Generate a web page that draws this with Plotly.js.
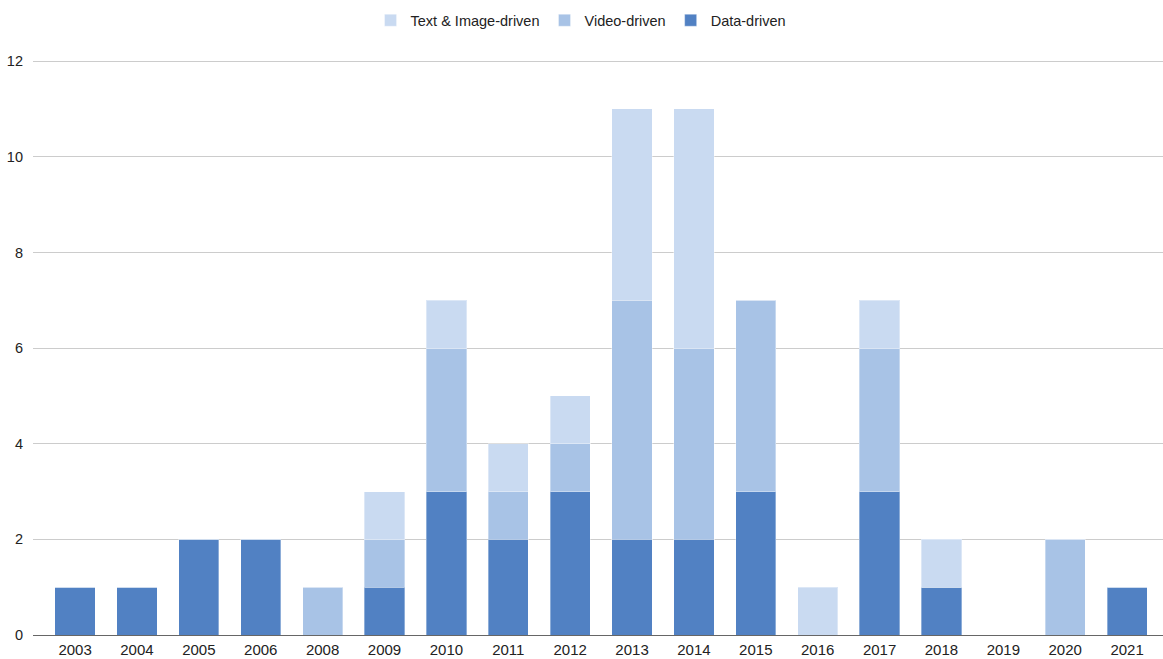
<!DOCTYPE html>
<html>
<head>
<meta charset="utf-8">
<script src="https://cdn.plot.ly/plotly-3.0.1.min.js"></script>
<style>html,body{margin:0;padding:0;background:#fff;}#chart{width:1163px;height:659px;}</style>
</head>
<body>
<div id="chart"></div>
<script>
const years = ["2003","2004","2005","2006","2008","2009","2010","2011","2012","2013","2014","2015","2016","2017","2018","2019","2020","2021"];
const dataDriven  = [1,1,2,2,0,1,3,2,3,2,2,3,0,3,1,0,0,1];
const videoDriven = [0,0,0,0,1,1,3,1,1,5,4,4,0,3,0,0,2,0];
const textDriven  = [0,0,0,0,0,1,1,1,1,4,5,0,1,1,1,0,0,0];
const yTicks = [0,2,4,6,8,10,12];

const mk = (name, y, color) => ({
  type: 'bar', name: name, x: years, y: y,
  marker: {color: color, line: {color: 'rgba(255,255,255,0.35)', width: 1}},
  hoverinfo: 'x+y+name'
});

const traces = [
  mk('Data-driven', dataDriven, '#5181c3'),
  mk('Video-driven', videoDriven, '#a8c3e6'),
  mk('Text & Image-driven', textDriven, '#c9daf1')
];

const layout = {
  width: 1163, height: 659,
  margin: {l: 33, r: 0, t: 54, b: 24, pad: 0},
  barmode: 'stack',
  bargap: 0.35,
  paper_bgcolor: '#fff', plot_bgcolor: '#fff',
  font: {family: 'Liberation Sans, Arial, sans-serif', size: 14, color: '#222'},
  showlegend: true,
  legend: {orientation: 'h', x: 0.485, xanchor: 'center', y: 1.058, yanchor: 'middle',
           traceorder: 'reversed', font: {size: 14.5, color: '#222'}, itemwidth: 30},
  xaxis: {type: 'category', range: [-0.68, 17.58], showgrid: false, showline: false,
          ticks: '', ticklabelstandoff: 4, tickfont: {size: 15, color: '#222'}, fixedrange: true},
  yaxis: {range: [0, 12.15], tickvals: yTicks, ticktext: yTicks.map(String), showgrid: true,
          gridcolor: '#cccccc', gridwidth: 1, zeroline: true, zerolinecolor: '#666', zerolinewidth: 1,
          ticks: '', ticklabelstandoff: 9, tickfont: {size: 14.5, color: '#222'}, fixedrange: true}
};

Plotly.newPlot('chart', traces, layout, {displayModeBar: false, staticPlot: true});
</script>
</body>
</html>
